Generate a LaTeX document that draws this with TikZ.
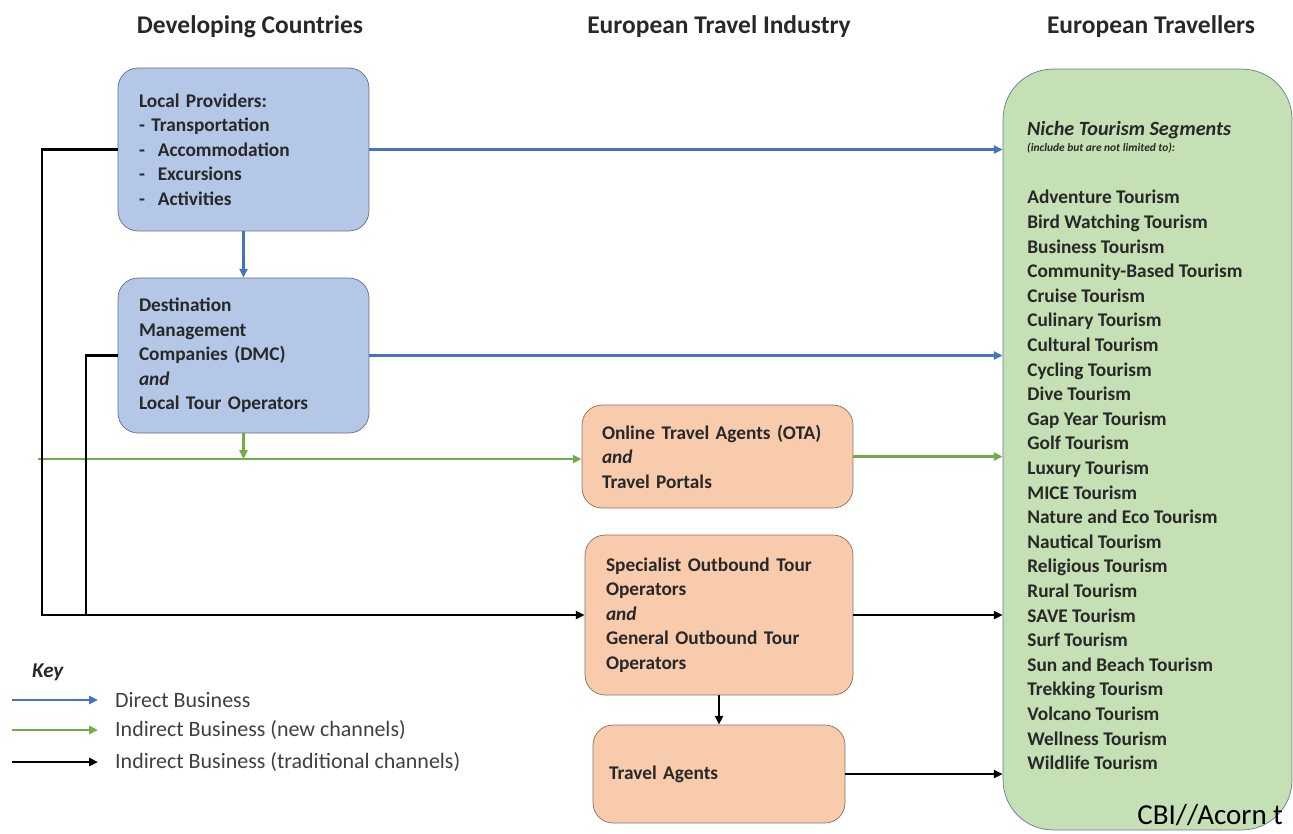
\documentclass[tikz,border=0pt]{standalone}
\usepackage{fontspec}
\setmainfont{Carlito}
\usepackage{xcolor}
\usetikzlibrary{arrows.meta, positioning}
\definecolor{azul}{RGB}{68,114,196}
\definecolor{verde}{RGB}{112,173,71}
\definecolor{cajaazul}{RGB}{180,199,231}
\definecolor{cajanaranja}{RGB}{248,203,173}
\definecolor{cajaverde}{RGB}{197,224,180}
\definecolor{tinta}{RGB}{40,40,40}

\begin{document}
\begin{tikzpicture}[x=0.02cm, y=-0.02cm, >={Triangle[length=5pt,width=4.5pt]},
  box/.style={draw=#1!55!black, fill=#1, rounded corners=0.4cm, align=left,
    inner xsep=0.42cm, text=tinta, font=\bfseries\fontsize{11}{13.9}\selectfont},
  head/.style={font=\bfseries\fontsize{14.5}{16}\selectfont, text=tinta},
  keytext/.style={anchor=west, font=\fontsize{12.5}{14}\selectfont, text=black!75},
  direct/.style={azul, line width=1.3pt},
  newch/.style={verde, line width=1.4pt},
  trad/.style={black, line width=1.5pt}]
  \useasboundingbox (0,0) rectangle (1293,833);

  % column headings
  \node[head] (hdev) at (250,27) {Developing Countries};
  \node[head] (hind) at (719,27) {European Travel Industry};
  \node[head] (htrav) at (1151,27) {European Travellers};

  % developing countries
  \node[box=cajaazul, text width=4.18cm, minimum height=3.26cm] (lp) at (243.5,149.5)
    {Local Providers:\\ - Transportation\\ - \ Accommodation\\ - \ Excursions\\ - \ Activities};
  \node[box=cajaazul, text width=4.18cm, minimum height=3.1cm] (dmc) at (243.5,355.5)
    {Destination\\ Management\\ Companies (DMC)\\ \textit{and}\\ Local Tour Operators};

  % european travel industry
  \node[box=cajanaranja, text width=4.62cm, minimum height=2.06cm, inner xsep=0.4cm] (ota) at (717.5,456.5)
    {Online Travel Agents (OTA)\\ \textit{and}\\ Travel Portals};
  \node[box=cajanaranja, text width=4.52cm, minimum height=3.2cm] (spec) at (719,615)
    {Specialist Outbound Tour\\ Operators\\ \textit{and}\\ General Outbound Tour\\ Operators};
  \node[box=cajanaranja, text width=4.4cm, minimum height=1.96cm, inner xsep=0.32cm] (ta) at (719,774)
    {Travel Agents};

  % european travellers
  \node[draw=black!40!cajaverde!60!azul, fill=cajaverde, rounded corners=1cm,
    minimum width=5.78cm, minimum height=15.22cm] (trav) at (1147.5,449.5) {};
  \node[anchor=west, text=tinta, font=\bfseries\itshape\fontsize{11.5}{13}\selectfont] (niche) at (1021,130)
    {Niche Tourism Segments};
  \node[anchor=west, text=tinta, font=\bfseries\itshape\fontsize{6.5}{7}\selectfont] (incl) at (1021,148)
    {(include but are not limited to):};
  \node[anchor=north west, align=left, inner sep=0, text=tinta,
    font=\bfseries\fontsize{11}{14}\selectfont] (segs) at (1027,190)
    {Adventure Tourism\\ Bird Watching Tourism\\ Business Tourism\\ Community-Based Tourism\\
     Cruise Tourism\\ Culinary Tourism\\ Cultural Tourism\\ Cycling Tourism\\ Dive Tourism\\
     Gap Year Tourism\\ Golf Tourism\\ Luxury Tourism\\ MICE Tourism\\ Nature and Eco Tourism\\
     Nautical Tourism\\ Religious Tourism\\ Rural Tourism\\ SAVE Tourism\\ Surf Tourism\\
     Sun and Beach Tourism\\ Trekking Tourism\\ Volcano Tourism\\ Wellness Tourism\\ Wildlife Tourism};
  \node[anchor=base west, inner sep=0, font=\fontsize{16.5}{20}\selectfont] (src) at (1137,824) {CBI//Acorn t};

  % direct business
  \draw[direct, ->] (lp.east) -- (lp.east -| trav.west);
  \draw[direct, ->] (lp.south) -- (dmc.north);
  \draw[direct, ->] (dmc.east) -- (dmc.east -| trav.west);

  % new channels
  \coordinate (gin) at (38,459);
  \draw[newch, ->] (gin) -- (gin -| ota.west);
  \draw[newch, ->] (dmc.south) -- (dmc.south |- gin);
  \draw[newch, ->] (ota.east) -- (ota.east -| trav.west);

  % traditional channels
  \coordinate (outer) at (42,615);
  \coordinate (inner) at (86,615);
  \draw[trad, ->] (lp.west) -| (outer) -- (spec.west);
  \draw[trad] (dmc.west) -| (inner);
  \draw[trad, ->] (spec.east) -- (spec.east -| trav.west);
  \draw[trad, ->] (spec.south) -- (ta.north);
  \draw[trad, ->] (ta.east) -- (ta.east -| trav.west);

  % key
  \node[anchor=west, font=\bfseries\itshape\fontsize{12}{13}\selectfont, text=tinta] (key) at (26,672) {Key};
  \node[keytext] (kdir) at (109,700) {Direct Business};
  \node[keytext] (knew) at (109,730) {Indirect Business (new channels)};
  \node[keytext] (ktrad) at (109,762) {Indirect Business (traditional channels)};
  \coordinate (kd) at (12,700);
  \coordinate (kn) at (12,730);
  \coordinate (kt) at (12,762);
  \draw[direct, ->, shorten >=0.22cm] (kd) -- (kdir.west);
  \draw[newch, ->, shorten >=0.22cm] (kn) -- (knew.west);
  \draw[trad, ->, shorten >=0.22cm] (kt) -- (ktrad.west);
\end{tikzpicture}
\end{document}
